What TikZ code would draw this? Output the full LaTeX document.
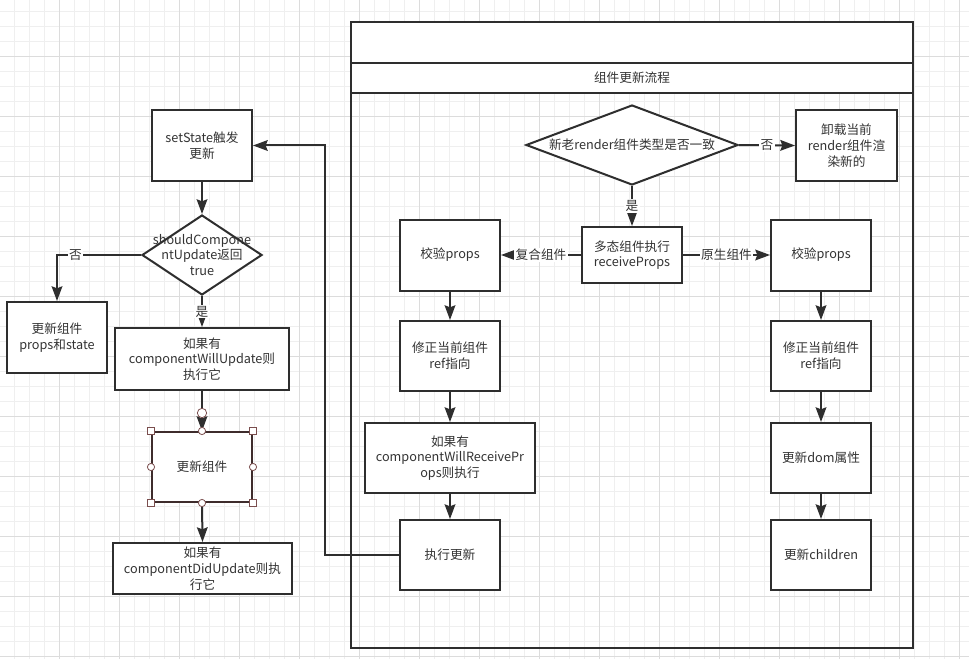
\documentclass[tikz,border=0pt]{standalone}
\usepackage{fontspec}
\setmainfont{Noto Sans CJK SC}
\usetikzlibrary{arrows.meta,shapes.geometric}
\definecolor{linec}{HTML}{2E2E2E}
\definecolor{textc}{HTML}{333333}
\definecolor{gridmin}{HTML}{EFEFEF}
\definecolor{gridmaj}{HTML}{DCDCDC}
\definecolor{selc}{HTML}{3E2C2C}
\definecolor{handc}{HTML}{7A4E4E}
\begin{document}
\begin{tikzpicture}[x=0.75pt,y=-0.75pt,
  txt/.style={font=\fontsize{9.5pt}{11.8pt}\selectfont, text=textc, align=center},
  box/.style={txt, draw=linec, line width=1.5pt, fill=white, inner sep=0pt},
  dia/.style={draw=linec, line width=1.5pt, fill=white, diamond, inner sep=0pt},
  arr/.style={draw=linec, line width=1.5pt, -{Stealth[length=11pt,width=8pt,inset=1.5pt]}},
  lbl/.style={txt, fill=white, inner sep=1pt},
  hsq/.style={draw=handc, fill=white, line width=0.6pt, minimum size=5.2pt, inner sep=0pt, rectangle},
  hci/.style={draw=handc, fill=white, line width=0.6pt, minimum size=5.4pt, inner sep=0pt, circle}]
\useasboundingbox (0,0) rectangle (969,659);
\fill[white] (0,0) rectangle (969,659);
% grid
\foreach \x in {14,29,...,969} \draw[gridmin, line width=0.6pt] (\x,0) -- (\x,659);
\foreach \y in {11,26,...,659} \draw[gridmin, line width=0.6pt] (0,\y) -- (969,\y);
\foreach \x in {59,119,...,969} \draw[gridmaj, line width=0.7pt] (\x,0) -- (\x,659);
\foreach \y in {56,116,...,659} \draw[gridmaj, line width=0.7pt] (0,\y) -- (969,\y);
% container
\fill[white] (351,22) rectangle (913,93);
\draw[linec, line width=1.5pt] (351,22) rectangle (913,648);
\draw[linec, line width=1.5pt] (351,63) -- (913,63);
\draw[linec, line width=1.5pt] (351,93) -- (913,93);
\node[txt] (title) at (632,78) {组件更新流程};
% left column
\node[box, minimum width=75pt, minimum height=53.25pt] (set) at (202,145.5) {setState触发\\更新};
\node[dia, minimum width=90pt, minimum height=60pt] (dl) at (202,255) {};
\node[txt] (dltext) at (dl.center) {shouldCompone\\ntUpdate返回\\true};
\node[box, minimum width=75pt, minimum height=53.25pt] (ps) at (57,337.5) {更新组件\\props和state};
\node[box, minimum width=130.5pt, minimum height=46.5pt] (wu) at (202,359) {如果有\\componentWillUpdate则\\执行它};
\node[box, draw=selc, minimum width=75pt, minimum height=52.5pt] (upd) at (202,467) {更新组件};
\node[box, minimum width=134.25pt, minimum height=38.25pt] (du) at (202.5,568.5) {如果有\\componentDidUpdate则执\\行它};
% right side
\node[dia, minimum width=159pt, minimum height=60pt] (dr) at (632,145) {};
\node[txt] (drtext) at (dr.center) {新老render组件类型是否一致};
\node[box, minimum width=75.75pt, minimum height=53.25pt] (unl) at (846.5,145.5) {卸载当前\\render组件渲\\染新的};
\node[box, minimum width=75pt, minimum height=42pt] (poly) at (632,255) {多态组件执行\\receiveProps};
\node[box, minimum width=75pt, minimum height=53.25pt] (chkL) at (450,255) {校验props};
\node[box, minimum width=75pt, minimum height=52.5pt] (fixL) at (450,356) {修正当前组件\\ref指向};
\node[box, minimum width=127.5pt, minimum height=52.5pt] (wrp) at (450,458) {如果有\\componentWillReceivePr\\ops则执行};
\node[box, minimum width=75pt, minimum height=52.5pt] (exe) at (450,555) {执行更新};
\node[box, minimum width=75pt, minimum height=53.25pt] (chkR) at (821,255) {校验props};
\node[box, minimum width=75pt, minimum height=52.5pt] (fixR) at (821,356) {修正当前组件\\ref指向};
\node[box, minimum width=75pt, minimum height=52.5pt] (dom) at (821,458) {更新dom属性};
\node[box, minimum width=75pt, minimum height=52.5pt] (chi) at (821,555) {更新children};
% connectors left
\draw[arr] (set) -- (dl);
\draw[arr] (dl.west) -| node[lbl, pos=0.39] {否} (ps.north);
\draw[arr] (dl.south) -- node[lbl] {是} (wu.north);
\draw[arr] (wu.south) -- (upd.north);
\draw[arr] (upd.south) -- (du.north);
\draw[arr] (exe.west) -- ++(-74,0) |- (set.east);
% connectors right
\draw[arr] (dr.east) -- node[lbl] {否} (unl.west);
\draw[arr] (dr.south) -- node[lbl] {是} (poly.north);
\draw[arr] (poly.west) -- node[lbl] {复合组件} (chkL.east);
\draw[arr] (poly.east) -- node[lbl] {原生组件} (chkR.west);
\draw[arr] (chkL) -- (fixL);
\draw[arr] (fixL) -- (wrp);
\draw[arr] (wrp) -- (exe);
\draw[arr] (chkR) -- (fixR);
\draw[arr] (fixR) -- (dom);
\draw[arr] (dom) -- (chi);
% selection handles
\node[hci, minimum size=7pt] (hedge) at (202,413) {};
\foreach \a in {north west,north east,south west,south east}
  \node[hsq] at (upd.\a) {};
\foreach \a in {north,south,east,west}
  \node[hci] at (upd.\a) {};
\end{tikzpicture}
\end{document}
